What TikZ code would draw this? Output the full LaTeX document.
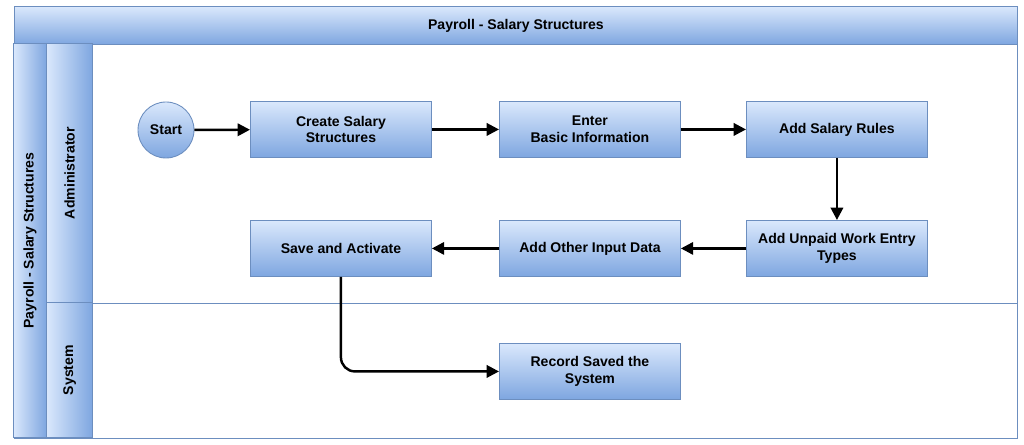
\documentclass[tikz,border=0pt]{standalone}
\usepackage{fontspec}
\setmainfont{Liberation Sans}
\usetikzlibrary{arrows.meta}
\definecolor{bl}{HTML}{6C8EBF}
\definecolor{gtop}{HTML}{DAE8FC}
\definecolor{gbot}{HTML}{7EA6E0}
\begin{document}
\begin{tikzpicture}[x=0.02cm,y=-0.02cm,font=\fontsize{8}{9.5}\selectfont\bfseries,
  grad/.style={draw=bl,top color=gtop,bottom color=gbot,line width=0.5pt},
  lgrad/.style={draw=bl,left color=gtop,right color=gbot,line width=0.5pt},
  stepbox/.style={grad,minimum width=181*0.02cm,minimum height=56*0.02cm,align=center,inner sep=1pt,anchor=north west},
  conn/.style={-{Triangle[length=7pt,width=7pt]},line width=1.4pt}]
\useasboundingbox (0,0) rectangle (1024,445);
\draw[bl,line width=0.5pt] (14,6) rectangle (1017,438);
\node[grad,minimum width=1003*0.02cm,minimum height=38*0.02cm,anchor=north west] (title) at (14,6) {Payroll - Salary Structures};
\node[lgrad,minimum width=394*0.02cm,minimum height=33*0.02cm,rotate=90,anchor=south west] (pool) at (47,438) {Payroll - Salary Structures};
\node[lgrad,minimum width=259*0.02cm,minimum height=46*0.02cm,rotate=90,anchor=south west] (l1) at (93,303) {Administrator};
\node[lgrad,minimum width=135*0.02cm,minimum height=46*0.02cm,rotate=90,anchor=south west] (l2) at (93,438) {System};
\draw[bl,line width=0.5pt] (93,303) -- (1017,303);
\node[grad,circle,minimum size=56*0.02cm,inner sep=0pt] (start) at (166,130) {Start};
\node[stepbox] (create) at (250,101) {Create Salary\\Structures};
\node[stepbox] (enter) at (499,101) {Enter\\Basic Information};
\node[stepbox] (rules) at (746,101) {Add Salary Rules};
\node[stepbox] (unpaid) at (746,220) {Add Unpaid Work Entry\\Types};
\node[stepbox] (other) at (499,220) {Add Other Input Data};
\node[stepbox] (save) at (250,220) {Save and Activate};
\node[stepbox] (record) at (499,343) {Record Saved the\\System};
\draw[conn] (start) -- (create);
\draw[conn] (create) -- (enter);
\draw[conn] (enter) -- (rules);
\draw[conn] (rules) -- (unpaid);
\draw[conn] (unpaid) -- (other);
\draw[conn] (other) -- (save);
\draw[conn,rounded corners=8pt] (save.south) |- (record.west);
\end{tikzpicture}
\end{document}
